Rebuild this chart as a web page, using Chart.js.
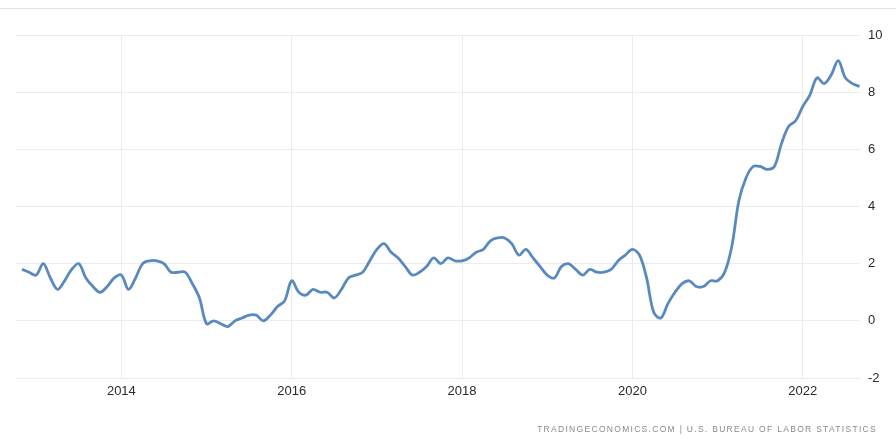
<!DOCTYPE html>
<html>
<head>
<meta charset="utf-8">
<script src="https://cdn.jsdelivr.net/npm/chart.js@4.4.0/dist/chart.umd.min.js"></script>
<style>
  html, body { margin: 0; padding: 0; background: #fff; }
  #wrap { position: relative; width: 896px; height: 439px; }
  #topline { position: absolute; left: 0; top: 8px; width: 896px; height: 1px; background: #e2e2e2; }
  #source {
    position: absolute; right: 19px; top: 424px;
    font-family: 'Liberation Sans', Arial, sans-serif; font-size: 8.5px;
    color: #8a8a8a; letter-spacing: 1.3px;
  }
</style>
</head>
<body>
<div id="wrap">
  <canvas id="c" width="896" height="439"></canvas>
  <div id="topline"></div>
  <div id="source">TRADINGECONOMICS.COM | U.S. BUREAU OF LABOR STATISTICS</div>
</div>
<script>
'use strict';

// monthly observations, Nov 2012 .. Sep 2022 (YoY %)
const START_YEAR = 2012;
const START_MONTH = 11;
const cpiValues = [
  1.8, 1.7,
  1.6, 2.0, 1.5, 1.1, 1.4, 1.8, 2.0, 1.5, 1.2, 1.0, 1.2, 1.5,
  1.6, 1.1, 1.5, 2.0, 2.1, 2.1, 2.0, 1.7, 1.7, 1.7, 1.3, 0.8,
  -0.1, 0.0, -0.1, -0.2, 0.0, 0.1, 0.2, 0.2, 0.0, 0.2, 0.5, 0.7,
  1.4, 1.0, 0.9, 1.1, 1.0, 1.0, 0.8, 1.1, 1.5, 1.6, 1.7, 2.1,
  2.5, 2.7, 2.4, 2.2, 1.9, 1.6, 1.7, 1.9, 2.2, 2.0, 2.2, 2.1,
  2.1, 2.2, 2.4, 2.5, 2.8, 2.9, 2.9, 2.7, 2.3, 2.5, 2.2, 1.9,
  1.6, 1.5, 1.9, 2.0, 1.8, 1.6, 1.8, 1.7, 1.7, 1.8, 2.1, 2.3,
  2.5, 2.3, 1.5, 0.3, 0.1, 0.6, 1.0, 1.3, 1.4, 1.2, 1.2, 1.4,
  1.4, 1.7, 2.6, 4.2, 5.0, 5.4, 5.4, 5.3, 5.4, 6.2, 6.8, 7.0,
  7.5, 7.9, 8.5, 8.3, 8.6, 9.1, 8.5, 8.3, 8.2
];
const xTickYears = [2014, 2016, 2018, 2020, 2022];
const yTicks = [-2, 0, 2, 4, 6, 8, 10];

const points = cpiValues.map((v, i) => {
  const m = START_MONTH - 1 + i;
  return { x: START_YEAR + m / 12, y: v };
});

const tickFont = { family: "'Liberation Sans', Arial, sans-serif", size: 13 };
const gridColor = '#ececec';

new Chart(document.getElementById('c'), {
  type: 'line',
  data: {
    datasets: [{
      label: 'Inflation Rate',
      data: points,
      borderColor: '#5a8abd',
      borderWidth: 2.8,
      pointRadius: 0,
      tension: 0.35,
      fill: false
    }]
  },
  options: {
    responsive: false,
    animation: false,
    layout: { padding: { left: 16, right: 0, top: 35, bottom: 0 } },
    plugins: { legend: { display: false }, tooltip: { enabled: false } },
    scales: {
      x: {
        type: 'linear',
        min: 2012.763,
        max: 2022.672,
        afterBuildTicks: axis => { axis.ticks = xTickYears.map(v => ({ value: v })); },
        afterFit: axis => { axis.height = 61; },
        grid: { color: gridColor, drawTicks: false },
        border: { display: false },
        ticks: { color: '#2b2b2b', font: tickFont, padding: 6, callback: v => String(v), maxRotation: 0 }
      },
      y: {
        position: 'right',
        min: -2,
        max: 10,
        afterBuildTicks: axis => { axis.ticks = yTicks.map(v => ({ value: v })); },
        afterFit: axis => { axis.width = 36; },
        grid: { color: gridColor, drawTicks: false },
        border: { display: false },
        ticks: { color: '#2b2b2b', font: tickFont, padding: 8 }
      }
    }
  }
});
</script>
</body>
</html>
